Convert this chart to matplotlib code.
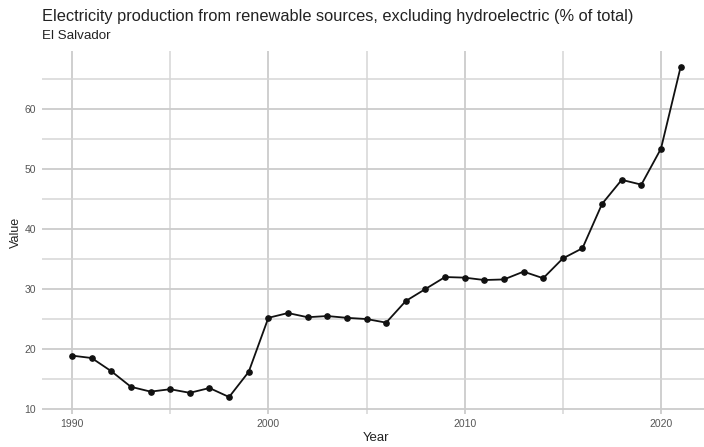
import numpy as np
import matplotlib
matplotlib.use("Agg")
import matplotlib.pyplot as plt
from matplotlib.ticker import MultipleLocator

# Data
years = list(range(1990, 2022))
values = [18.9, 18.5, 16.3, 13.7, 12.9, 13.3, 12.7, 13.5, 12.0, 16.2,
          25.2, 26.0, 25.3, 25.5, 25.2, 25.0, 24.4, 28.0, 30.0, 32.0,
          31.9, 31.5, 31.6, 32.9, 31.8, 35.1, 36.8, 44.2, 48.2, 47.4,
          53.4, 67.0]

title = "Electricity production from renewable sources, excluding hydroelectric (% of total)"
subtitle = "El Salvador"

plt.rcParams["font.family"] = ["Liberation Sans", "DejaVu Sans"]

fig = plt.figure(figsize=(7.04, 4.47), dpi=100)
ax = fig.add_axes([0.0591, 0.0749, 0.9509, 0.812])

ax.plot(years, values, "-", color="#111111", linewidth=1.3, marker="o",
        markersize=3.8, zorder=3)

ax.set_xlim(1988.45, 2022.55)
ax.set_ylim(9.25, 69.75)
ax.xaxis.set_major_locator(MultipleLocator(10))
ax.xaxis.set_minor_locator(MultipleLocator(5))
ax.yaxis.set_major_locator(MultipleLocator(10))
ax.yaxis.set_minor_locator(MultipleLocator(5))

ax.grid(which="major", color="#cccccc", linewidth=1.3)
ax.grid(which="minor", color="#d6d6d6", linewidth=1.1)
ax.set_axisbelow(True)
for s in ax.spines.values():
    s.set_visible(False)
ax.tick_params(which="both", length=0, labelsize=7.5, colors="#555555", pad=4)

ax.set_xlabel("Year", fontsize=9.5, color="#222222", labelpad=2)
ax.set_ylabel("Value", fontsize=9.0, color="#222222", labelpad=2)

fig.text(42.5 / 704, 1 - 16 / 447, title, fontsize=11.8, color="#222222",
         ha="left", va="center")
fig.text(42.5 / 704, 1 - 36 / 447, subtitle, fontsize=9.6, color="#222222",
         ha="left", va="center")

fig.savefig("out.png", dpi=100)
